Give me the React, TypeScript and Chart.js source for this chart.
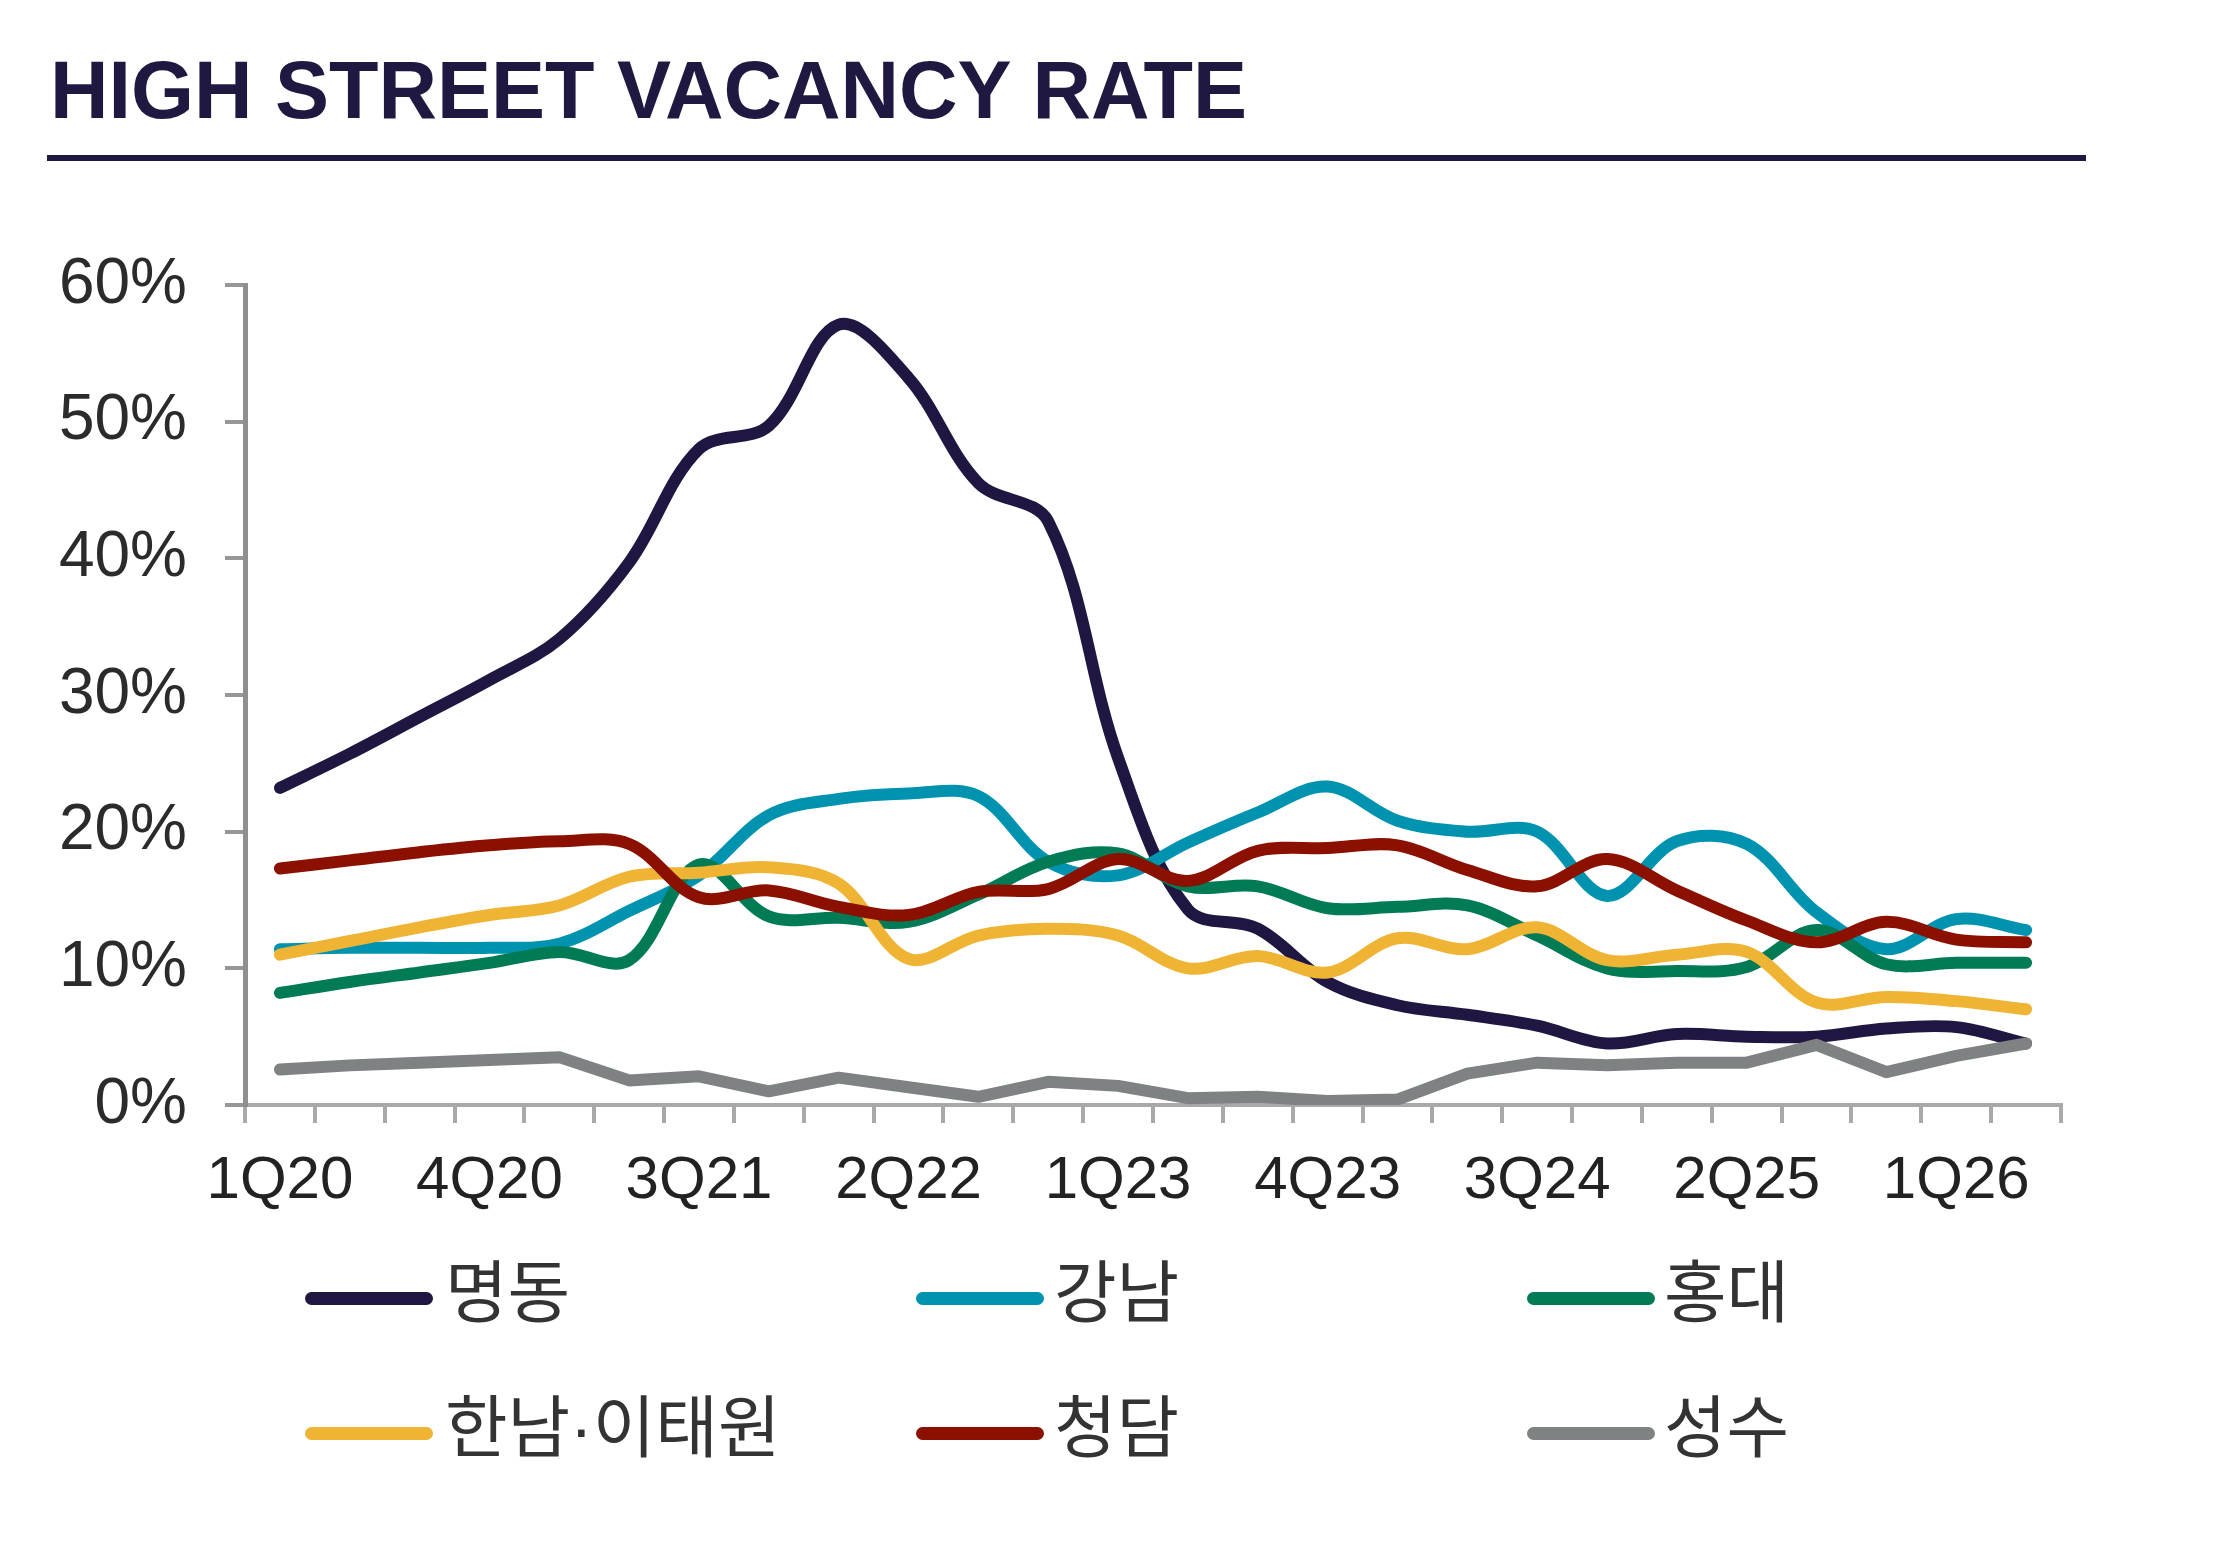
import React, { useEffect, useRef } from 'react';
import { Chart, registerables } from 'chart.js';

Chart.register(...registerables);

const categories = [
  '1Q20', '2Q20', '3Q20', '4Q20',
  '1Q21', '2Q21', '3Q21', '4Q21',
  '1Q22', '2Q22', '3Q22', '4Q22',
  '1Q23', '2Q23', '3Q23', '4Q23',
  '1Q24', '2Q24', '3Q24', '4Q24',
  '1Q25', '2Q25', '3Q25', '4Q25',
  '1Q26', '2Q26',
];

const xTickLabels = ['1Q20', '4Q20', '3Q21', '2Q22', '1Q23', '4Q23', '3Q24', '2Q25', '1Q26'];

const seriesNames = ['명동', '강남', '홍대', '한남·이태원', '청담', '성수'];

const myeongdong = [23.2, 25.7, 28.4, 31.1, 34.1, 39.7, 48.0, 49.7, 57.1, 53.2, 45.5, 42.7, 25.4, 14.3, 12.9, 9.0, 7.3, 6.6, 5.8, 4.5, 5.2, 5.0, 5.0, 5.6, 5.7, 4.5];
const gangnam = [11.4, 11.5, 11.5, 11.5, 11.8, 14.2, 16.8, 21.2, 22.4, 22.8, 22.6, 17.8, 16.8, 19.2, 21.4, 23.3, 20.8, 20.0, 20.0, 15.3, 19.3, 19.1, 14.1, 11.4, 13.6, 12.8];
const hongdae = [8.2, 9.0, 9.7, 10.4, 11.2, 10.6, 17.6, 13.8, 13.7, 13.4, 15.4, 17.8, 18.4, 16.0, 16.0, 14.4, 14.5, 14.6, 12.4, 10.0, 9.8, 10.1, 12.8, 10.3, 10.4, 10.4];
const hannamItaewon = [11.0, 12.0, 13.0, 13.9, 14.6, 16.7, 17.0, 17.4, 16.2, 10.7, 12.4, 12.9, 12.4, 10.0, 10.9, 9.7, 12.2, 11.4, 13.0, 10.6, 11.0, 11.2, 7.5, 7.9, 7.6, 7.0];
const cheongdam = [17.3, 17.9, 18.5, 19.0, 19.3, 19.1, 15.2, 15.7, 14.5, 13.9, 15.6, 15.8, 18.0, 16.4, 18.6, 18.8, 19.0, 17.2, 16.0, 18.0, 15.7, 13.5, 11.9, 13.4, 12.1, 11.9];
const seongsu = [2.6, 2.9, 3.1, 3.3, 3.5, 1.8, 2.1, 1.0, 2.0, 1.3, 0.6, 1.7, 1.4, 0.5, 0.6, 0.3, 0.4, 2.3, 3.1, 2.9, 3.1, 3.1, 4.4, 2.4, 3.6, 4.5];

const seriesValues = [myeongdong, gangnam, hongdae, hannamItaewon, cheongdam, seongsu];
const seriesColors = ['#1f1741', '#0093b0', '#007b56', '#f0b434', '#8c1000', '#7f8283'];
const seriesSmooth = [true, true, true, true, true, false];

const yMin = 0;
const yMax = 60;
const yStep = 10;

const LATIN = "'Liberation Sans', Arial, Helvetica, sans-serif";
const KOREAN = "'Liberation Sans', 'Noto Sans CJK KR', 'Noto Sans', sans-serif";

const legendLayout = [
  { swatchX: 305, textX: 445, cy: 1298 },
  { swatchX: 916, textX: 1054, cy: 1298 },
  { swatchX: 1527, textX: 1664, cy: 1298 },
  { swatchX: 305, textX: 445, cy: 1433 },
  { swatchX: 916, textX: 1054, cy: 1433 },
  { swatchX: 1527, textX: 1664, cy: 1433 },
];

export default function App() {
  const canvasRef = useRef<HTMLCanvasElement | null>(null);

  useEffect(() => {
    const canvas = canvasRef.current;
    if (!canvas) return;
    const chart = new Chart(canvas, {
      type: 'line',
      data: {
        labels: categories,
        datasets: seriesNames.map((name, i) => ({
          label: name,
          data: seriesValues[i],
          borderColor: seriesColors[i],
          backgroundColor: seriesColors[i],
          borderWidth: 12,
          tension: seriesSmooth[i] ? 0.35 : 0,
          pointRadius: 0,
          pointHoverRadius: 0,
          borderCapStyle: 'round',
          borderJoinStyle: 'round',
          fill: false,
          order: 5 - i,
        })),
      },
      options: {
        responsive: false,
        animation: false,
        events: [],
        devicePixelRatio: 1,
        layout: { padding: { top: 80, right: 179, bottom: 0, left: 0 } },
        plugins: {
          legend: { display: false },
          tooltip: { enabled: false },
          title: { display: false },
        },
        scales: {
          x: {
            type: 'category',
            offset: true,
            grid: {
              offset: true,
              drawOnChartArea: false,
              drawTicks: true,
              tickLength: 18,
              tickColor: '#a9a9a9',
              tickWidth: 4,
              lineWidth: 4,
            },
            border: { display: true, color: '#a9a9a9', width: 4 },
            ticks: {
              autoSkip: false,
              maxRotation: 0,
              minRotation: 0,
              padding: 22,
              color: '#222222',
              font: { family: LATIN, size: 60 },
              callback: (_v: any, idx: number) => {
                const l = categories[idx];
                return xTickLabels.includes(l) ? l : '';
              },
            },
            afterFit: (scale: any) => {
              scale.height = 135;
            },
          },
          y: {
            min: yMin,
            max: yMax,
            grid: {
              drawOnChartArea: false,
              drawTicks: true,
              tickLength: 20,
              tickColor: '#979797',
              tickWidth: 4,
              lineWidth: 4,
            },
            border: { display: true, color: '#8f8f8f', width: 5 },
            ticks: {
              stepSize: yStep,
              padding: 38,
              color: '#2b2b2b',
              font: { family: LATIN, size: 64 },
              callback: (v: any) => `${v}%`,
            },
            afterFit: (scale: any) => {
              scale.width = 245;
            },
          },
        },
      } as any,
    });
    return () => chart.destroy();
  }, []);

  return (
    <div style={{ position: 'absolute', left: 0, top: 0, width: 2240, height: 1550, background: '#ffffff', overflow: 'hidden' }}>
      <div
        style={{
          position: 'absolute',
          left: 50,
          top: 50,
          fontFamily: LATIN,
          fontWeight: 'bold',
          fontSize: 81,
          lineHeight: 1,
          color: '#1f1840',
          whiteSpace: 'nowrap',
        }}
      >
        HIGH STREET VACANCY RATE
      </div>
      <div style={{ position: 'absolute', left: 47, top: 155, width: 2039, height: 6, background: '#1f1840' }} />
      <canvas
        ref={canvasRef}
        width={2240}
        height={1035}
        style={{ position: 'absolute', left: 0, top: 205, width: 2240, height: 1035 }}
      />
      {seriesNames.map((name, i) => (
        <React.Fragment key={name}>
          <div
            style={{
              position: 'absolute',
              left: legendLayout[i].swatchX,
              top: legendLayout[i].cy - 6.5,
              width: 128,
              height: 13,
              borderRadius: 6.5,
              background: seriesColors[i],
            }}
          />
          <div
            style={{
              position: 'absolute',
              left: legendLayout[i].textX,
              top: legendLayout[i].cy - 39,
              fontFamily: KOREAN,
              fontSize: 68,
              lineHeight: 1,
              color: '#333333',
              whiteSpace: 'nowrap',
            }}
          >
            {name}
          </div>
        </React.Fragment>
      ))}
    </div>
  );
}
